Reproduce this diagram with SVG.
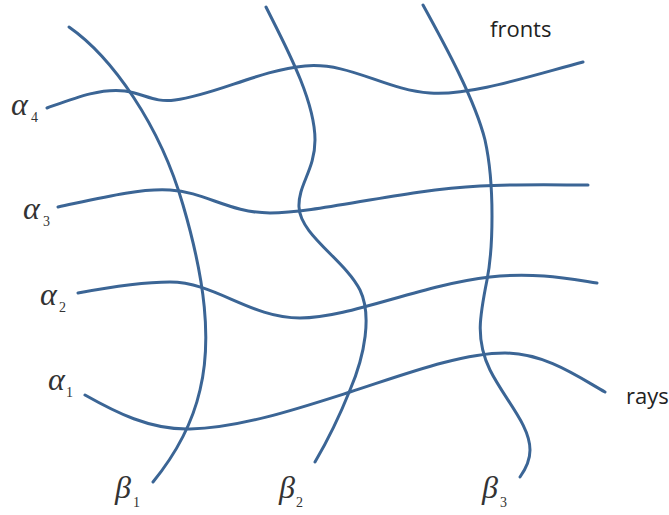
<svg xmlns="http://www.w3.org/2000/svg" width="669" height="515" viewBox="0 0 669 515">
<style>
.c{fill:none;stroke:#3b6595;stroke-width:3;stroke-linecap:round}
.g{font-family:"Liberation Serif",serif;font-style:italic;font-size:32px;fill:#333}
.s{font-family:"Liberation Serif",serif;font-size:14px;fill:#333}
.t{font-family:"Open Sans","Noto Sans",sans-serif;font-size:22px;fill:#222}
</style>
<rect width="669" height="515" fill="#fff"/>
<g id="connectors">
<path id="alpha4" class="c" d="M47,108 C75,98 100,88 125,91 C145,94 155,103 175,100 C215,95 260,70 305,66 C350,62 385,90 430,93 C470,96 530,76 583,62"/>
<path id="alpha3" class="c" d="M58,207 C100,198 140,188 170,190 C205,192 230,213 270,213 C320,213 400,190 480,186 C520,184 560,185 588,185"/>
<path id="alpha2" class="c" d="M78,293 C110,287 140,282 170,282 C215,282 250,318 300,318 C350,318 420,285 490,277 C535,272 570,279 597,283"/>
<path id="alpha1" class="c" d="M85,395 C115,412 150,430 190,429 C240,428 300,408 350,392 C400,376 460,353 505,353 C545,353 580,378 605,392"/>
<path id="beta1" class="c" d="M69,27 C112,57 160,125 183,205 C205,280 212,340 200,390 C192,425 175,455 153,482"/>
<path id="beta2" class="c" d="M266,7 C285,45 315,100 315,140 C315,170 298,185 299,207 C300,235 345,260 360,290 C372,315 365,355 350,390 C338,420 325,445 315,462"/>
<path id="beta3" class="c" d="M423,5 C445,45 475,100 485,140 C495,185 493,250 487,280 C480,315 475,340 490,370 C505,400 530,425 530,450 C530,462 525,470 520,477"/>
</g>
<g id="label-a4"><text class="g" x="11" y="115">α</text><text class="s" x="31" y="122">4</text></g>
<g id="label-a3"><text class="g" x="23" y="219">α</text><text class="s" x="43" y="226">3</text></g>
<g id="label-a2"><text class="g" x="40" y="305">α</text><text class="s" x="59" y="312">2</text></g>
<g id="label-a1"><text class="g" x="48" y="390">α</text><text class="s" x="66" y="397">1</text></g>
<g id="label-b1"><text class="g" x="115" y="498">β</text><text class="s" x="133" y="507">1</text></g>
<g id="label-b2"><text class="g" x="279" y="498">β</text><text class="s" x="296" y="507">2</text></g>
<g id="label-b3"><text class="g" x="482" y="498">β</text><text class="s" x="500" y="507">3</text></g>
<g id="label-fronts"><text class="t" x="490" y="37">fronts</text></g>
<g id="label-rays"><text class="t" x="626" y="404">rays</text></g>
</svg>
